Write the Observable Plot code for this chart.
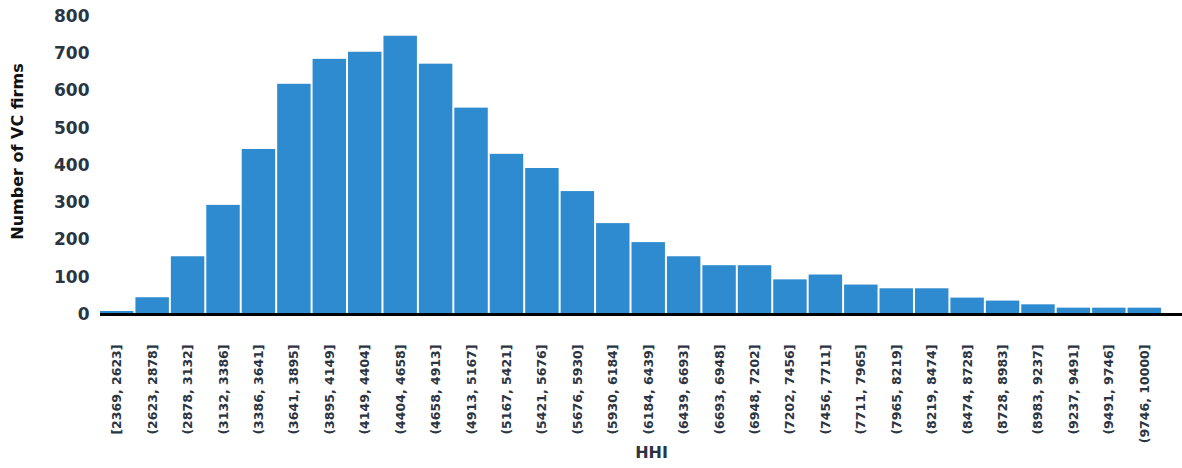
<!DOCTYPE html>
<html>
<head>
<meta charset="utf-8">
<script src="https://cdn.jsdelivr.net/npm/d3@7"></script>
<script src="https://cdn.jsdelivr.net/npm/@observablehq/plot@0.6"></script>
<style>
  html, body { margin: 0; padding: 0; background: #fff; }
</style>
</head>
<body>
<div id="chart"></div>
<script>
const bins = [
  "[2369, 2623]", "(2623, 2878]", "(2878, 3132]", "(3132, 3386]", "(3386, 3641]",
  "(3641, 3895]", "(3895, 4149]", "(4149, 4404]", "(4404, 4658]", "(4658, 4913]",
  "(4913, 5167]", "(5167, 5421]", "(5421, 5676]", "(5676, 5930]", "(5930, 6184]",
  "(6184, 6439]", "(6439, 6693]", "(6693, 6948]", "(6948, 7202]", "(7202, 7456]",
  "(7456, 7711]", "(7711, 7965]", "(7965, 8219]", "(8219, 8474]", "(8474, 8728]",
  "(8728, 8983]", "(8983, 9237]", "(9237, 9491]", "(9491, 9746]", "(9746, 10000]"
];
const counts = [
  8, 45, 155, 293, 443, 618, 685, 704, 747, 672,
  554, 430, 392, 330, 244, 193, 155, 131, 131, 93,
  106, 79, 69, 69, 44, 36, 26, 17, 17, 17
];
const yTicks = [0, 100, 200, 300, 400, 500, 600, 700, 800];
const xTitle = "HHI";
const yTitle = "Number of VC firms";

const data = bins.map((b, i) => ({bin: b, count: counts[i]}));

const textColor = "#2b3441";
const font = "'DejaVu Sans', sans-serif";

const chart = Plot.plot({
  width: 1182,
  height: 468,
  marginTop: 16,
  marginBottom: 154,
  marginLeft: 100,
  marginRight: 0,
  style: {fontFamily: font, fontWeight: "bold", color: textColor, background: "#fff"},
  x: {domain: bins, range: [99, 1162], paddingInner: 0.056, paddingOuter: 0.028, round: false, label: null},
  y: {domain: [0, 800], label: null},
  marks: [
    Plot.barY(data, {x: "bin", y: "count", fill: "#2e8bcf"}),
    Plot.ruleY([0], {stroke: "#000", strokeWidth: 2.8}),
    Plot.axisY({ticks: yTicks, tickSize: 0, tickPadding: 11, fontSize: 17, label: null, letterSpacing: 1.5}),
    Plot.axisX({tickSize: 0, tickRotate: -90, tickPadding: 30, fontSize: 12.5, label: null}),
    Plot.text([yTitle], {frameAnchor: "left", dx: -83, dy: -14, rotate: -90, textAnchor: "middle", fontSize: 16, fill: "#111", fontWeight: "bold"}),
    Plot.text([xTitle], {frameAnchor: "bottom", dx: 10, dy: 143, fontSize: 16, fill: textColor, fontWeight: "bold"})
  ]
});
document.getElementById("chart").appendChild(chart);
</script>
</body>
</html>
